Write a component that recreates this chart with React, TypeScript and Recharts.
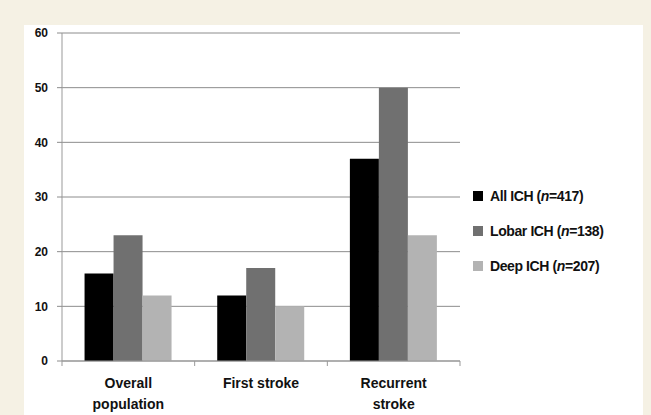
import React from 'react';
import { BarChart, Bar, XAxis, YAxis, CartesianGrid } from 'recharts';

const categories = ['Overall population', 'First stroke', 'Recurrent stroke'];
const allIch = [16, 12, 37];
const lobarIch = [23, 17, 50];
const deepIch = [12, 10, 23];
const yTicks = [0, 10, 20, 30, 40, 50, 60];

const SERIES = [
  { key: 'all', name: 'All ICH', n: 417, color: '#000000' },
  { key: 'lobar', name: 'Lobar ICH', n: 138, color: '#707070' },
  { key: 'deep', name: 'Deep ICH', n: 207, color: '#b3b3b3' },
];

const data = categories.map((c, i) => ({
  category: c,
  all: allIch[i],
  lobar: lobarIch[i],
  deep: deepIch[i],
}));

const FONT = '"Liberation Sans", Arial, sans-serif';
const CHART_W = 619;
const CHART_H = 390;
const MARGIN = { top: 8, right: 183, bottom: 0, left: 0 };
const Y_W = 38;
const BAND = (CHART_W - MARGIN.left - MARGIN.right - Y_W) / categories.length;

// category label, split in two lines, plus a tick mark on the category boundary
const CategoryTick = ({ x, y, payload, index }: any) => {
  const label: string = payload.value;
  const lines = label === 'First stroke' ? [label] : label.split(' ');
  const isLast = index === categories.length - 1;
  return (
    <g>
      <line x1={x - BAND / 2} x2={x - BAND / 2} y1={y - 8} y2={y - 3} stroke="#999" />
      {isLast && <line x1={x + BAND / 2} x2={x + BAND / 2} y1={y - 8} y2={y - 3} stroke="#999" />}
      <text textAnchor="middle" fontFamily={FONT} fontWeight="bold" fontSize={14} fill="#111">
        {lines.map((l, i) => (
          <tspan key={i} x={x} y={y + 19 + i * 21}>{l}</tspan>
        ))}
      </text>
    </g>
  );
};

const LegendBox = () => (
  <div style={{ position: 'absolute', left: 449, top: 153, fontFamily: FONT, fontWeight: 'bold', fontSize: 14, color: '#111' }}>
    {SERIES.map((s) => (
      <div key={s.key} style={{ display: 'flex', alignItems: 'center', height: 35 }}>
        <span style={{ width: 10, height: 10, background: s.color, marginRight: 7, display: 'inline-block' }} />
        <span style={{ letterSpacing: -0.4 }}>
          {s.name} (<i>n</i>={s.n})
        </span>
      </div>
    ))}
  </div>
);

export default function App() {
  return (
    <div style={{ position: 'absolute', left: 0, top: 0, width: 651, height: 415, background: '#f5f1e4', overflow: 'hidden' }}>
      <div style={{ position: 'absolute', left: 24, top: 25, width: CHART_W, height: CHART_H, background: '#ffffff' }}>
        <BarChart width={CHART_W} height={CHART_H} data={data} margin={MARGIN} barGap={0} barCategoryGap="17%">
          <CartesianGrid vertical={false} stroke="#8c8c8c" />
          <XAxis
            dataKey="category"
            height={54}
            axisLine={{ stroke: '#999' }}
            tickLine={false}
            interval={0}
            tick={<CategoryTick />}
          />
          <YAxis
            width={Y_W}
            domain={[0, 60]}
            ticks={yTicks}
            interval={0}
            axisLine={{ stroke: '#999' }}
            tickLine={{ stroke: '#8c8c8c' }}
            tickSize={5}
            tickMargin={9}
            tick={{ fontFamily: FONT, fontWeight: 'bold', fontSize: 12, fill: '#111' }}
          />
          {SERIES.map((s) => (
            <Bar key={s.key} dataKey={s.key} name={s.name} fill={s.color} isAnimationActive={false} />
          ))}
        </BarChart>
        <LegendBox />
      </div>
    </div>
  );
}
